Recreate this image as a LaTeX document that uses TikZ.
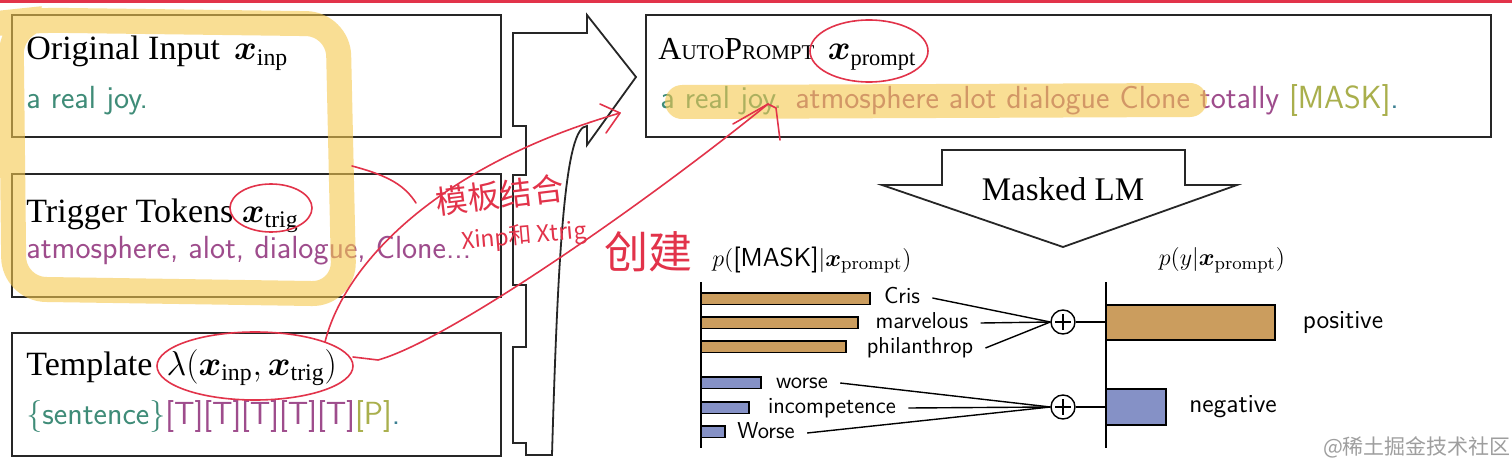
\documentclass[tikz,border=0pt]{standalone}
\usepackage{amsmath,amssymb,bm}
\usepackage{fontspec}
\newfontfamily\cjk{Noto Sans CJK SC}
\newfontfamily\titlefont{Liberation Serif}
\usetikzlibrary{positioning}
\definecolor{inpgreen}{HTML}{3F8C78}
\definecolor{trigpurple}{HTML}{9E4C8C}
\definecolor{maskolive}{HTML}{A9AF4C}
\definecolor{dotteal}{HTML}{3B7F92}
\definecolor{barbrown}{HTML}{CB9D5E}
\definecolor{barblue}{HTML}{8591C6}
\definecolor{penred}{HTML}{E2334A}
\definecolor{marker}{HTML}{F6C94E}

\begin{document}
\begin{tikzpicture}[x=0.5pt,y=-0.5pt,line join=miter,
  frame/.style={line width=0.9pt,draw=black!85},
  head/.style={anchor=base west,inner sep=0pt,font=\titlefont\fontsize{17}{20}\selectfont},
  body/.style={anchor=base west,inner sep=0pt,font=\sffamily\fontsize{16}{19}\selectfont},
  word/.style={anchor=base,inner xsep=6pt,inner ysep=1pt,font=\sffamily\fontsize{11.5}{14}\selectfont},
  cls/.style={anchor=base,inner sep=1pt,font=\sffamily\fontsize{13}{15}\selectfont},
  wire/.style={line width=0.7pt},
  bar/.style={line width=0.8pt},
  sum/.style={circle,draw,line width=0.7pt,inner sep=0pt,minimum size=12pt,
    path picture={\draw ([yshift=-2pt]path picture bounding box.north) -- ([yshift=2pt]path picture bounding box.south);
                  \draw ([xshift=2pt]path picture bounding box.west) -- ([xshift=-2pt]path picture bounding box.east);}},
  pen/.style={penred,line width=0.8pt,line cap=round,line join=round},
  hand/.style={text=penred,inner sep=0pt,font=\cjk\fontsize{16}{18}\selectfont}]
\useasboundingbox (0,0) rectangle (1512,471);
\fill[white] (0,0) rectangle (1512,471);
\fill[penred] (0,0) rectangle (1512,3);

\draw[frame] (12,15) rectangle (501,137);
\draw[frame] (12,174) rectangle (501,297);
\draw[frame] (12,333) rectangle (501,456);
\node[head] (inptitle) at (26,60) {Original Input\ \,$\bm{x}_{\text{inp}}$};
\node[body] (inptext) at (26,108) {\color{inpgreen}a real joy.};
\node[head] (trigtitle) at (26,222) {Trigger Tokens\ $\bm{x}_{\text{trig}}$};
\node[body] (trigtext) at (26,258) {\color{trigpurple}atmosphere, alot, dialogue, Clone...};
\node[head] (tpltitle) at (26,375) {Template\ \,$\lambda(\bm{x}_{\text{inp}},\bm{x}_{\text{trig}})$};
\node[body] (tpltext) at (26,424) {\textcolor{inpgreen}{\{sentence\}}\textcolor{trigpurple}{[T][T][T][T][T]}\textcolor{maskolive}{[P]}\textcolor{dotteal}{.}};

\draw[frame] (513,33) -- (587,33) -- (587,15) -- (636,77) -- (587,145) -- (587,126)
  .. controls (565,126) and (558,250) .. (552,455) -- (526,455) -- (526,443) -- (513,443)
  -- (513,347) -- (526,347) -- (526,285) -- (513,285) -- (513,175) -- (526,175)
  -- (526,126) -- (513,126) -- cycle;

\draw[frame] (646,15) rectangle (1491,137);
\node[head,font=\titlefont\fontsize{16}{19}\selectfont] (prompttitle) at (658,60)
  {A{\fontsize{10.5}{12}\selectfont UTO}P{\fontsize{10.5}{12}\selectfont ROMPT}\ \,$\bm{x}_{\text{prompt}}$};
\node[body] (prompttext) at (660,108) {\textcolor{inpgreen}{a real joy.} \textcolor{trigpurple}{atmosphere alot dialogue Clone totally} \textcolor{maskolive}{[MASK]}\textcolor{dotteal}{.}};

\draw[frame] (942,150) -- (1185,150) -- (1185,185) -- (1237,185) -- (1063,247) -- (882,185) -- (942,185) -- cycle;
\node[font=\titlefont\fontsize{16.5}{19}\selectfont] (mlm) at (1063,189) {Masked LM};

\node[font=\fontsize{13}{15}\selectfont] (masktitle) at (812,260) {$p(\text{\sffamily[MASK]}|\bm{x}_{\text{prompt}})$};
\node[font=\fontsize{13}{15}\selectfont] (ytitle) at (1222,260) {$p(y|\bm{x}_{\text{prompt}})$};

\draw[bar] (701,282) -- (701,448);
\draw[bar] (1106,282) -- (1106,448);
\foreach \y/\e in {293/870,317/858,341/846} \draw[bar,fill=barbrown] (701,\y) rectangle (\e,\y+11.5);
\foreach \y/\e in {377/761,402/749,426/725} \draw[bar,fill=barblue] (701,\y) rectangle (\e,\y+11.5);
\draw[bar,fill=barbrown] (1106,305) rectangle (1275,340);
\draw[bar,fill=barblue] (1106,389) rectangle (1166,425);

\node[sum] (sumpos) at (1063,322) {};
\node[sum] (sumneg) at (1063,407) {};
\coordinate (posend) at (1106,322);
\coordinate (negend) at (1106,407);
\draw[wire] (sumpos) -- (posend);
\draw[wire] (sumneg) -- (negend);
\foreach \n/\t/\x/\y in {cris/Cris/902/303,marv/marvelous/922/328,phil/philanthrop/920/353} {
  \node[word] (\n) at (\x,\y) {\t};
  \draw[wire] ([yshift=2.5pt]\n.base east) -- (sumpos.west);
}
\foreach \n/\t/\x/\y in {worse/worse/802/388,incomp/incompetence/832/413,bigworse/Worse/766/438} {
  \node[word] (\n) at (\x,\y) {\t};
  \draw[wire] ([yshift=2.5pt]\n.base east) -- (sumneg.west);
}
\node[cls] (poslbl) at (1343,328) {positive};
\node[cls] (neglbl) at (1233,412) {negative};

\node[font=\cjk\fontsize{10.5}{12}\selectfont,text=black!38] (mark) at (1417,447) {@稀土掘金技术社区};

\draw[marker,line width=12.5pt,opacity=0.6,rounded corners=16pt,line cap=round]
  (30,20) -- (338,24) -- (344,294) -- (14,289) -- (11,22) -- cycle;
\draw[marker,line width=17pt,opacity=0.6,line cap=round] (682,102) -- (1190,100);

\draw[pen] (271,208) ellipse [x radius=41,y radius=24];
\draw[pen] (255,366) ellipse [x radius=98,y radius=34];
\draw[pen] (869,51) ellipse [x radius=59,y radius=31];
\coordinate (lamtop) at (325,342);
\coordinate (lamright) at (353,357);
\coordinate (hitinp) at (620,113);
\coordinate (hitjoy) at (768,104);
\coordinate (loopedge) at (352,166);
\coordinate (notestart) at (416,203);
\draw[pen] (lamtop) .. controls (345,262) and (440,165) .. (hitinp);
\draw[pen] (600,104) -- (hitinp) -- (606,133);
\draw[pen] (lamright) -- (378,360) .. controls (450,340) and (650,200) .. (hitjoy);
\draw[pen] (733,124) -- (hitjoy) -- (776,108) -- (780,140);
\draw[pen] (loopedge) .. controls (390,176) and (405,186) .. (notestart);
\node[hand,rotate=7] (handa) at (500,195) {模板结合};
\node[hand,font=\cjk\fontsize{11.5}{13}\selectfont,rotate=5] (handb) at (524,237) {Xinp和 Xtrig};
\node[hand,font=\cjk\fontsize{22}{24}\selectfont] (handc) at (648,252) {创建};
\end{tikzpicture}
\end{document}
